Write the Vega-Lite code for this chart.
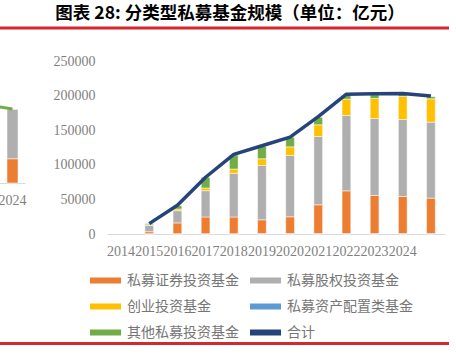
{
  "$schema": "https://vega.github.io/schema/vega-lite/v6.json",
  "padding": {"left": -25, "top": 4, "right": 0, "bottom": 0},
  "background": "#FFFFFF",
  "title": {"text": "图表 28: 分类型私募基金规模（单位：亿元）", "font": "Noto Sans CJK SC", "fontSize": 17.5, "fontWeight": "bold", "color": "#000000", "anchor": "middle", "offset": 0, "dx": 18},
  "datasets": {
    "funds": [
      {"year": "2014", "type": "私募证券投资基金", "value": 3300},
      {"year": "2014", "type": "私募股权投资基金", "value": 9300},
      {"year": "2014", "type": "创业投资基金", "value": 800},
      {"year": "2014", "type": "私募资产配置类基金", "value": 0},
      {"year": "2014", "type": "其他私募投资基金", "value": 1500},
      {"year": "2015", "type": "私募证券投资基金", "value": 16000},
      {"year": "2015", "type": "私募股权投资基金", "value": 17700},
      {"year": "2015", "type": "创业投资基金", "value": 2400},
      {"year": "2015", "type": "私募资产配置类基金", "value": 0},
      {"year": "2015", "type": "其他私募投资基金", "value": 4800},
      {"year": "2016", "type": "私募证券投资基金", "value": 24600},
      {"year": "2016", "type": "私募股权投资基金", "value": 38000},
      {"year": "2016", "type": "创业投资基金", "value": 3900},
      {"year": "2016", "type": "私募资产配置类基金", "value": 0},
      {"year": "2016", "type": "其他私募投资基金", "value": 15400},
      {"year": "2017", "type": "私募证券投资基金", "value": 24600},
      {"year": "2017", "type": "私募股权投资基金", "value": 63100},
      {"year": "2017", "type": "创业投资基金", "value": 6200},
      {"year": "2017", "type": "私募资产配置类基金", "value": 0},
      {"year": "2017", "type": "其他私募投资基金", "value": 20300},
      {"year": "2018", "type": "私募证券投资基金", "value": 20200},
      {"year": "2018", "type": "私募股权投资基金", "value": 78500},
      {"year": "2018", "type": "创业投资基金", "value": 9700},
      {"year": "2018", "type": "私募资产配置类基金", "value": 300},
      {"year": "2018", "type": "其他私募投资基金", "value": 17800},
      {"year": "2019", "type": "私募证券投资基金", "value": 24600},
      {"year": "2019", "type": "私募股权投资基金", "value": 88600},
      {"year": "2019", "type": "创业投资基金", "value": 12500},
      {"year": "2019", "type": "私募资产配置类基金", "value": 300},
      {"year": "2019", "type": "其他私募投资基金", "value": 13700},
      {"year": "2020", "type": "私募证券投资基金", "value": 41900},
      {"year": "2020", "type": "私募股权投资基金", "value": 98700},
      {"year": "2020", "type": "创业投资基金", "value": 16900},
      {"year": "2020", "type": "私募资产配置类基金", "value": 300},
      {"year": "2020", "type": "其他私募投资基金", "value": 10800},
      {"year": "2021", "type": "私募证券投资基金", "value": 62100},
      {"year": "2021", "type": "私募股权投资基金", "value": 108900},
      {"year": "2021", "type": "创业投资基金", "value": 23600},
      {"year": "2021", "type": "私募资产配置类基金", "value": 300},
      {"year": "2021", "type": "其他私募投资基金", "value": 6000},
      {"year": "2022", "type": "私募证券投资基金", "value": 55400},
      {"year": "2022", "type": "私募股权投资基金", "value": 111200},
      {"year": "2022", "type": "创业投资基金", "value": 28900},
      {"year": "2022", "type": "私募资产配置类基金", "value": 300},
      {"year": "2022", "type": "其他私募投资基金", "value": 5500},
      {"year": "2023", "type": "私募证券投资基金", "value": 53900},
      {"year": "2023", "type": "私募股权投资基金", "value": 111300},
      {"year": "2023", "type": "创业投资基金", "value": 33200},
      {"year": "2023", "type": "私募资产配置类基金", "value": 300},
      {"year": "2023", "type": "其他私募投资基金", "value": 2800},
      {"year": "2024", "type": "私募证券投资基金", "value": 51600},
      {"year": "2024", "type": "私募股权投资基金", "value": 109800},
      {"year": "2024", "type": "创业投资基金", "value": 33700},
      {"year": "2024", "type": "私募资产配置类基金", "value": 300},
      {"year": "2024", "type": "其他私募投资基金", "value": 3000}
    ],
    "total": [
      {"year": "2014", "value": 15000},
      {"year": "2015", "value": 41500},
      {"year": "2016", "value": 82000},
      {"year": "2017", "value": 115000},
      {"year": "2018", "value": 127500},
      {"year": "2019", "value": 140000},
      {"year": "2020", "value": 169500},
      {"year": "2021", "value": 202000},
      {"year": "2022", "value": 202500},
      {"year": "2023", "value": 203000},
      {"year": "2024", "value": 199500}
    ],
    "prev": [
      {"year": "2024", "type": "私募证券投资基金", "value": 49700},
      {"year": "2024", "type": "私募股权投资基金", "value": 101200}
    ],
    "prevLine": [
      {"year": "2023", "value": 160000},
      {"year": "2024", "value": 151500}
    ],
    "band": [
      {"from": 0, "to": 1}
    ]
  },
  "spacing": 22,
  "vconcat": [
    {"width": 474, "height": 10, "data": {"name": "band"}, "mark": {"type": "rect", "color": "#D2282E"},
      "encoding": {
        "x": {"field": "from", "type": "quantitative", "scale": {"domain": [0, 1], "nice": false, "zero": false}, "axis": null},
        "x2": {"field": "to"},
        "y": {"field": "from", "type": "quantitative", "scale": {"domain": [-0.833, 2.5], "nice": false, "zero": false}, "axis": null},
        "y2": {"field": "to"}
      }},
    {
      "spacing": 2,
      "vconcat": [
        {
          "spacing": 27,
          "resolve": {"scale": {"color": "independent"}, "legend": {"color": "independent"}},
          "hconcat": [
            {
              "width": 50,
              "height": 122,
              "layer": [
                {
                  "data": {"name": "prev"},
                  "mark": {"type": "bar", "stroke": "#FFFFFF", "strokeWidth": 0.5},
                  "encoding": {
                    "x": {"field": "year", "type": "ordinal", "scale": {"domain": ["2023", "2024"], "paddingInner": 0.56, "paddingOuter": 0.28},
                      "axis": {"title": null, "labelAngle": 0, "labelExpr": "datum.value == '2023' ? '' : datum.value", "ticks": false, "domainColor": "#D9D9D9", "labelFont": "Liberation Serif", "labelFontSize": 14, "labelColor": "#7F7F7F", "labelPadding": 10}},
                    "y": {"field": "value", "type": "quantitative", "stack": "zero", "scale": {"domain": [0, 250000], "nice": false}, "axis": null},
                    "color": {"field": "type", "type": "nominal", "sort": ["私募证券投资基金", "私募股权投资基金"], "scale": {"domain": ["私募证券投资基金", "私募股权投资基金"], "range": ["#ED7D31", "#AFAFAF"]}, "legend": null}
                  }
                },
                {
                  "data": {"name": "prevLine"},
                  "mark": {"type": "line", "color": "#70AD47", "strokeWidth": 3},
                  "encoding": {
                    "x": {"field": "year", "type": "ordinal"},
                    "y": {"field": "value", "type": "quantitative"}
                  }
                }
              ]
            },
            {
              "width": 338,
              "height": 173,
              "layer": [
                {
                  "data": {"name": "funds"},
                  "mark": {"type": "bar", "stroke": "#FFFFFF", "strokeWidth": 0.5},
                  "encoding": {
                    "x": {"field": "year", "type": "ordinal",
                      "scale": {"domain": ["", "2014", "2015", "2016", "2017", "2018", "2019", "2020", "2021", "2022", "2023", "2024"], "paddingInner": 0.69, "paddingOuter": 0.345},
                      "axis": {"title": null, "labelAngle": 0, "labelOffset": -28.17, "labelOverlap": false, "labelBound": false, "labelFlush": false, "ticks": false, "domainColor": "#D9D9D9", "domainWidth": 1, "labelFont": "Liberation Serif", "labelFontSize": 14, "labelColor": "#7F7F7F", "labelPadding": 10}},
                    "y": {"field": "value", "type": "quantitative", "stack": "zero",
                      "scale": {"domain": [0, 250000], "nice": false},
                      "axis": {"title": null, "values": [0, 50000, 100000, 150000, 200000, 250000], "tickCount": 6, "format": "d", "labelOverlap": false, "domain": false, "ticks": false, "grid": false, "labelFont": "Liberation Serif", "labelFontSize": 14, "labelColor": "#7F7F7F", "labelPadding": 12}},
                    "color": {"field": "type", "type": "nominal",
                      "sort": ["私募证券投资基金", "私募股权投资基金", "创业投资基金", "私募资产配置类基金", "其他私募投资基金", "合计"],
                      "scale": {"domain": ["私募证券投资基金", "创业投资基金", "其他私募投资基金", "私募股权投资基金", "私募资产配置类基金", "合计"], "range": ["#ED7D31", "#FFC000", "#70AD47", "#AFAFAF", "#5B9BD5", "#254479"]},
                      "legend": {"title": null, "orient": "none", "legendX": -19, "legendY": 212.5, "columns": 2, "columnPadding": 9, "rowPadding": 12,
                        "symbolType": "M-3.1,-0.6H3.1V0.6H-3.1Z", "symbolSize": 100, "symbolOffset": 10.5, "symbolStrokeWidth": 0,
                        "labelFont": "Noto Sans CJK SC", "labelFontSize": 14, "labelColor": "#767676", "labelOffset": 14.5, "labelLimit": 0}
                    }
                  }
                },
                {
                  "data": {"name": "total"},
                  "mark": {"type": "line", "strokeWidth": 3.5, "strokeJoin": "round"},
                  "encoding": {
                    "x": {"field": "year", "type": "ordinal"},
                    "y": {"field": "value", "type": "quantitative"},
                    "color": {"datum": "合计", "type": "nominal"}
                  }
                }
              ]
            }
          ]
        },
        {"width": 474, "height": 3, "data": {"name": "band"}, "mark": {"type": "rect", "color": "#D2282E"},
          "encoding": {
            "x": {"field": "from", "type": "quantitative", "scale": {"domain": [0, 1], "nice": false, "zero": false}, "axis": null},
            "x2": {"field": "to"},
            "y": {"field": "from", "type": "quantitative", "scale": {"domain": [0, 1], "nice": false, "zero": false}, "axis": null},
            "y2": {"field": "to"}
          }}
      ]
    }
  ],
  "config": {"view": {"stroke": null}}
}
